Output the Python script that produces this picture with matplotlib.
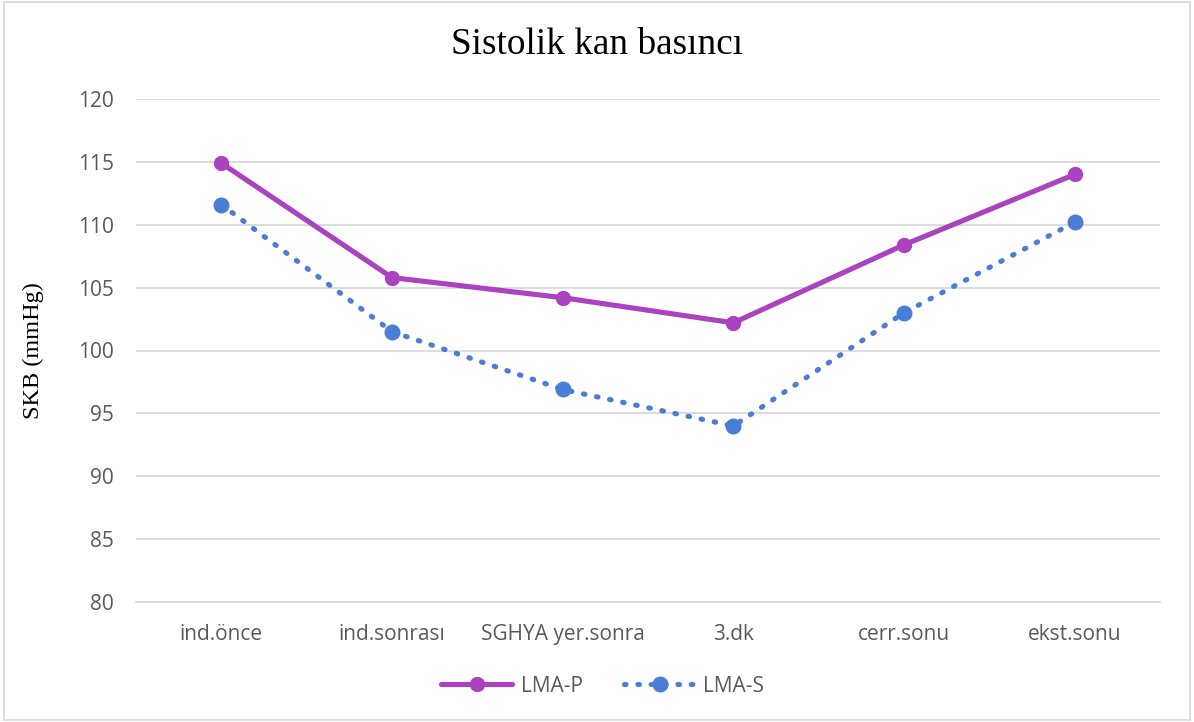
import matplotlib
matplotlib.use("Agg")
import matplotlib.pyplot as plt
from matplotlib.patches import Rectangle

# -----------------------
# Data
# -----------------------
categories = ["ind.önce", "ind.sonrası", "SGHYA yer.sonra", "3.dk", "cerr.sonu", "ekst.sonu"]
lma_p = [114.9, 105.8, 104.2, 102.2, 108.4, 114.0]
lma_s = [111.6, 101.5, 96.9, 94.0, 103.0, 110.2]
y_ticks = [80, 85, 90, 95, 100, 105, 110, 115, 120]

purple = "#AB42C0"
blue = "#4A7DD6"
grid_col = "#D9D9D9"
text_col = "#595959"

fig = plt.figure(figsize=(11.94, 7.22), dpi=100)
ax = fig.add_axes([136 / 1194, 1 - 602 / 722, (1160 - 136) / 1194, (602 - 99) / 722])

x = list(range(len(categories)))
ax.plot(x, lma_p, color=purple, lw=3.7, marker="o", markersize=10,
        solid_capstyle="round", label="LMA-P", zorder=3)
ax.plot(x, lma_s, color=blue, lw=3.7, linestyle=(0, (0.3, 2.3)), marker="o",
        markersize=10.5, dash_capstyle="round", label="LMA-S", zorder=3)

ax.set_xlim(-0.5, 5.5)
ax.set_ylim(80, 120)
ax.set_yticks(y_ticks)
ax.set_xticks(x)
ax.set_xticklabels(categories)

ax.grid(axis="y", color=grid_col, lw=1.3)
ax.set_axisbelow(True)
for s in ["top", "right", "left"]:
    ax.spines[s].set_visible(False)
ax.spines["bottom"].set_color(grid_col)
ax.spines["bottom"].set_linewidth(1.3)
ax.tick_params(axis="both", length=0, labelsize=15, colors=text_col, labelfontfamily="Open Sans")
ax.tick_params(axis="y", pad=16)
ax.tick_params(axis="x", pad=16)

ax.set_ylabel("SKB (mmHg)", fontfamily="Liberation Serif", fontsize=17.5, color="black", labelpad=24)
fig.text(0.5, 1 - 45 / 722, "Sistolik kan basıncı", ha="center", va="center",
         fontfamily="Liberation Serif", fontsize=26.8)

leg = fig.legend(loc="center", bbox_to_anchor=(0.505, 1 - 686 / 722), ncol=2, frameon=False,
                 prop={"family": "Open Sans", "size": 15}, handlelength=3.4, columnspacing=2.0,
                 handletextpad=0.4)
for t in leg.get_texts():
    t.set_color(text_col)

# light border around the chart
fig.patches.append(Rectangle((4 / 1194, 2 / 722), 1 - 8 / 1194, 1 - 4 / 722, transform=fig.transFigure,
                             fill=False, edgecolor="#D9D9D9", lw=1.2))

fig.savefig("out.png", dpi=100)
